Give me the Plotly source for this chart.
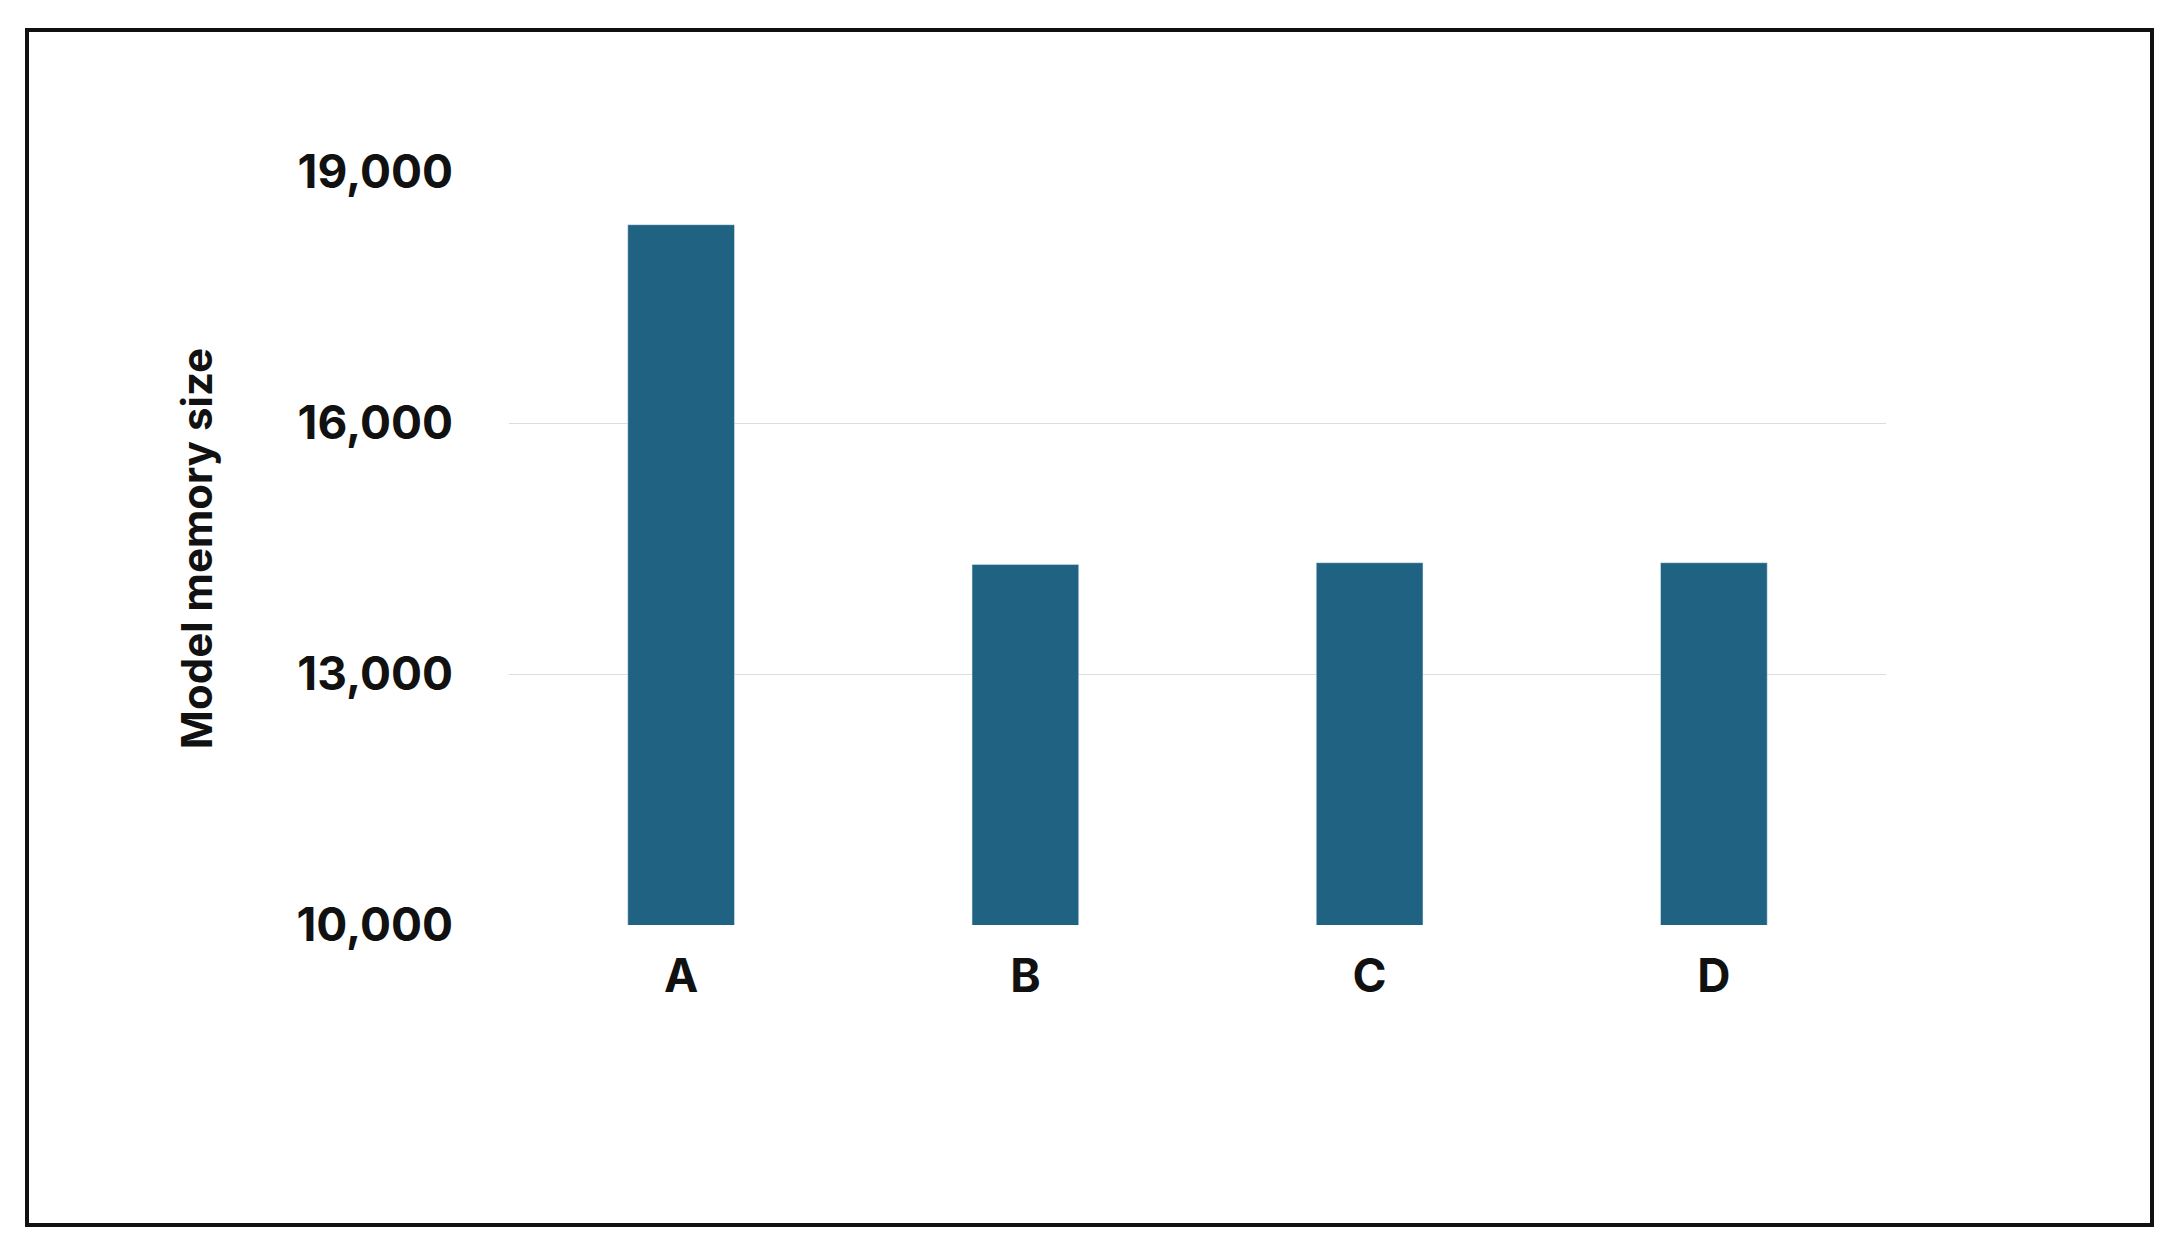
import plotly.graph_objects as go

categories = ["A", "B", "C", "D"]
values = [18370, 14310, 14330, 14330]
tick_vals = [10000, 13000, 16000, 19000]
tick_text = ["10,000", "13,000", "16,000", "19,000"]

W, H = 2166, 1239
L, R, T, B = 501, 288, 164, 322
pw, ph = W - L - R, H - T - B

fig = go.Figure(go.Bar(x=categories, y=values, marker_color="#1f6282", width=0.31))
fig.update_layout(
    width=W, height=H, margin=dict(l=L, r=R, t=T, b=B),
    plot_bgcolor="white", paper_bgcolor="white", showlegend=False,
    font=dict(family="Inter", color="#111111"),
    xaxis=dict(tickfont=dict(size=46, family="Inter", weight="bold"), showline=False, ticks="", ticklabelstandoff=20),
    yaxis=dict(range=[10000, 19000], tickvals=tick_vals, ticktext=tick_text,
               tickfont=dict(size=46, family="Inter", weight="bold"),
               gridcolor="#dddddd", gridwidth=1, zeroline=False, ticklabelstandoff=55,
               title=dict(text="Model memory size", font=dict(size=42, family="Inter", weight="bold"), standoff=70)),
    shapes=[dict(type="rect", xref="paper", yref="paper",
                 x0=(19 - L) / pw, x1=(2144 - L) / pw,
                 y0=1 - (1217 - T) / ph, y1=1 - (22 - T) / ph,
                 line=dict(color="#111111", width=4))],
)
fig.write_html("out.html")
